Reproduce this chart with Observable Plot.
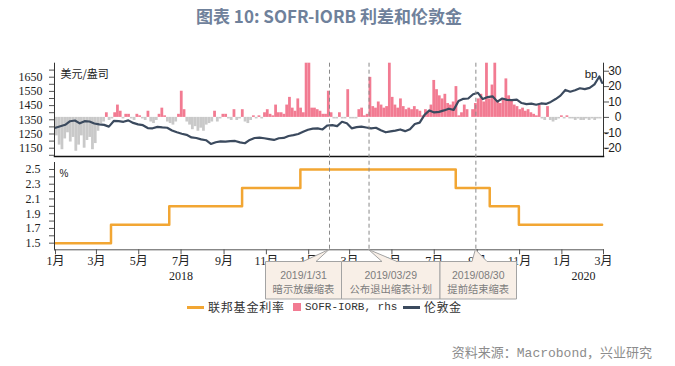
<!DOCTYPE html>
<html><head><meta charset="utf-8">
<script src="https://cdn.jsdelivr.net/npm/d3@7"></script>
<script src="https://cdn.jsdelivr.net/npm/@observablehq/plot@0.6"></script>
<style>
body{margin:0;background:#fff;}
#wrap{position:relative;width:675px;height:366px;overflow:hidden;}
#wrap svg{position:absolute;left:0;top:0;}
.abs{position:absolute;white-space:nowrap;}
#title{top:3px;left:0;width:658px;text-align:center;font:bold 17px "Noto Sans CJK SC",sans-serif;color:#6f819b;line-height:26px;}
.lg{font:12px "Noto Sans CJK SC",sans-serif;color:#333;line-height:14px;top:300px;}
#source{top:345px;right:23px;font:13px "Liberation Mono","Noto Sans CJK SC",monospace;color:#8c8c8c;line-height:18px;}
</style></head><body>
<div id="wrap"></div>
<script>
// ---- data ----
const goldStart = "2018-01-01";           // weekly observations (Mondays), last one 2020-02-28
const goldPrice = [
1294,1305,1315,1340,1345,1325,1340,1338,1324,1318,1314,1302,1342,
1340,1336,1346,1328,1318,1312,1292,1290,1300,1296,1294,1275,1262,
1252,1244,1226,1222,1212,1206,1180,1192,1198,1196,1200,1201,1191,
1185,1208,1222,1225,1220,1214,1208,1220,1222,1236,1242,1250,1266,
1280,1288,1290,1282,1310,1312,1305,1336,1326,1290,1298,1302,1296,
1290,1294,1276,1262,1268,1274,1282,1270,1284,1320,1330,1385,1416,
1402,1406,1416,1428,1420,1482,1498,1500,1530,1540,1496,1510,1515,
1478,1500,1490,1488,1492,1468,1460,1464,1456,1465,1462,1476,1496,
1520,1560,1548,1558,1572,1566,1575,1600,1655,1610];
const goldLastDate = "2020-02-28";

const sofrStart = "2018-01-01";           // 4-day blocks
const sofrIorb = [
-12,-18,-21,-14,-10,-16,-13,-22,-18,-12,
-20,-15,-13,-21,-17,-9,-4,-3,3,-2,
-1,3,8,4,-1,2,2,-1,-2,2,
1,-1,-2,4,-3,-4,-2,2,6,1,
-3,-4,-5,-3,2,17,5,-3,-5,-8,
-6,-9,-7,-9,-5,-4,-3,4,-3,-1,
2,2,-1,-2,5,-2,-1,5,-3,-4,
-2,1,-1,1,-1,3,5,2,1,8,
3,3,2,8,13,6,4,12,6,3,
40,40,6,6,5,4,2,2,17,3,
-1,-1,3,-1,-1,18,-1,-1,-1,5,
6,1,2,26,7,6,10,8,6,7,
40,13,8,6,12,7,5,6,5,7,
5,4,1,5,4,8,24,18,14,12,
15,9,8,10,20,1,3,8,5,0,
5,9,12,15,10,45,12,21,40,11,
9,12,25,14,11,8,7,5,6,4,
5,3,2,1,8,-1,-2,7,-2,-3,
-2,-1,1,-1,1,-1,-1,-2,-1,-2,
-2,-1,-2,-1,-2,-1,-1];

const fedDates = ["2018-01-01","2018-03-22","2018-06-14","2018-09-27","2018-12-20","2019-08-01","2019-09-19","2019-10-31","2020-02-28"];
const fedRate  = [1.5,1.75,2.0,2.25,2.5,2.25,2.0,1.75,1.75];

const eventDates  = ["2019-01-31","2019-03-29","2019-08-30"];
const eventLabels = ["2019/1/31","2019/03/29","2019/08/30"];
const eventNotes  = ["暗示放缓缩表","公布退出缩表计划","提前结束缩表"];

const monthTicks = ["2018-01-01","2018-03-01","2018-05-01","2018-07-01","2018-09-01","2018-11-01",
  "2019-01-01","2019-03-01","2019-05-01","2019-07-01","2019-09-01","2019-11-01","2020-01-01","2020-03-01"];
const yearLabels = ["2018","2020"];
const yearDates  = ["2018-07-01","2020-02-01"];

const goldTicks  = [1100,1150,1200,1250,1300,1350,1400,1450,1500,1550,1600,1650,1700];
const goldLabels = [1150,1250,1350,1450,1550,1650];
const bpTicks    = [-20,-10,0,10,20,30];
const fedTicks   = [1.5,1.6,1.7,1.8,1.9,2.0,2.1,2.2,2.3,2.4,2.5];
const fedLabels  = [1.5,1.7,1.9,2.1,2.3,2.5];

const legendNames = ["联邦基金利率","SOFR-IORB, rhs","伦敦金"];
const titleText = "图表 10: SOFR-IORB 利差和伦敦金";
const sourceText = "资料来源：Macrobond，兴业研究";

// ---- build ----
const PINK="#f27b92", GRAY="#c9c9c9", DARK="#3b4a5e", ORANGE="#f2a633";
const W=675, H=366, DAY=864e5;
const xDomain=[new Date("2018-01-01"), new Date("2020-03-01")];
const xOpt = {type:"utc", domain:xDomain, range:[55,603], label:null};
const base = {width:W, height:H, marginLeft:54, marginRight:72};
const sty = {background:"transparent", color:"#555", overflow:"visible"};

const s0 = +new Date(sofrStart);
const sofrData = sofrIorb.map((v,k)=>({d1:new Date(s0+4*k*DAY), d2:new Date(s0+4*(k+1)*DAY), v}));
const g0 = +new Date(goldStart);
const goldData = goldPrice.map((v,i)=>({d: i<goldPrice.length-1 ? new Date(g0+7*i*DAY) : new Date(goldLastDate), v}));
const fedData = fedDates.map((d,i)=>({d:new Date(d), v:fedRate[i]}));

const wrap = document.getElementById("wrap");

const topM = {marginTop:62.7, marginBottom:H-156};
const botM = {marginTop:162, marginBottom:H-249.3};

// top panel: bars (right axis)
const p1 = Plot.plot({...base, ...topM, style:sty,
  x:{...xOpt, axis:null},
  y:{domain:[-25.4,35.2], clamp:true, label:null},
  marks:[
    Plot.rect(sofrData.filter(d=>d.v<0),{x1:"d1",x2:"d2",y1:0,y2:"v",fill:GRAY}),
    Plot.rect(sofrData.filter(d=>d.v>0),{x1:"d1",x2:"d2",y1:0,y2:"v",fill:PINK}),
    Plot.axisY({anchor:"right", ticks:bpTicks, tickFormat:d=>String(d), tickSize:5, tickPadding:13,
      textAnchor:"end", fontFamily:"Liberation Sans", fontSize:12, fill:"#222"}),
    Plot.frame({anchor:"right", stroke:"#333"}),
    Plot.text(["bp"],{frameAnchor:"top-right", dx:-6, dy:7, textAnchor:"end", fontFamily:"Liberation Sans", fontSize:11.5, fill:"#222"})
  ]});

// top panel: gold (left axis)
const p2 = Plot.plot({...base, ...topM, style:sty,
  x:{...xOpt, axis:null},
  y:{domain:[1091.5,1748.6], label:null},
  marks:[
    Plot.line(goldData,{x:"d",y:"v",stroke:DARK,strokeWidth:2.2,strokeLinejoin:"round"}),
    Plot.axisY({anchor:"left", ticks:goldTicks, tickFormat:d=>goldLabels.includes(d)?String(d):"",
      tickSize:5, tickPadding:7, fontFamily:"Liberation Serif", fontSize:12, fill:"#222"}),
    Plot.frame({anchor:"left", stroke:"#333"}),
    Plot.frame({anchor:"bottom", stroke:"#111", strokeWidth:1.5}),
    Plot.text(["美元/盎司"],{frameAnchor:"top-left", dx:6, dy:7, textAnchor:"start", fontFamily:"Noto Sans CJK SC", fontSize:11, fill:"#222"})
  ]});

// bottom panel: fed funds
const p3 = Plot.plot({...base, ...botM, style:sty,
  x:xOpt,
  y:{domain:[1.41,2.595], label:null},
  marks:[
    Plot.line(fedData,{x:"d",y:"v",curve:"step-after",stroke:ORANGE,strokeWidth:2.5}),
    Plot.axisY({anchor:"left", ticks:fedTicks, tickFormat:d=>fedLabels.includes(d)?d.toFixed(1):"",
      tickSize:5, tickPadding:9, fontFamily:"Liberation Serif", fontSize:12, fill:"#222"}),
    Plot.frame({anchor:"left", stroke:"#333"}),
    Plot.frame({anchor:"bottom", stroke:"#555"}),
    Plot.axisX({anchor:"bottom", ticks:monthTicks.map(d=>new Date(d)), tickFormat:d=>(d.getUTCMonth()+1)+"月",
      tickSize:5, tickPadding:2, fontFamily:"Liberation Serif, Noto Sans CJK SC", fontSize:12, fill:"#222"}),
    Plot.text(yearLabels,{x:(d,i)=>new Date(yearDates[i]), text:d=>d, frameAnchor:"bottom", dy:30,
      fontFamily:"Liberation Serif", fontSize:12, fill:"#222"}),
    Plot.text(["%"],{frameAnchor:"top-left", dx:5, dy:7, textAnchor:"start", fontFamily:"Liberation Sans", fontSize:10, fill:"#222"})
  ]});

// overlay: event lines + callouts
const p4 = Plot.plot({...base, marginTop:62.7, marginBottom:H-249.3, style:sty,
  x:{...xOpt, axis:null},
  marks:[
    Plot.ruleX(eventDates.map(d=>new Date(d)),{stroke:"#8a8a8a", strokeDasharray:"4,3", strokeWidth:1})
  ]});

[p1,p2,p3,p4].forEach(p=>wrap.appendChild(p));

const sx = p4.scale("x");
const boxes = [[265.5,341.5,303,316],[341.5,440,382,397],[440,516.5,472,487]];
const bTop=261.5, bBot=299, tipY=249.5;
const g = d3.select(p4).append("g");
eventDates.forEach((d,i)=>{
  const [x0,x1,b0,b1]=boxes[i];
  const tx = sx.apply(new Date(d));
  g.append("path")
    .attr("d",`M${x0},${bTop}L${b0},${bTop}L${tx},${tipY}L${b1},${bTop}L${x1},${bTop}L${x1},${bBot}L${x0},${bBot}Z`)
    .attr("fill","#f8efe7").attr("stroke","#a3a3a3").attr("stroke-width",1);
  const cx=(x0+x1)/2;
  g.append("text").attr("x",cx).attr("y",275).attr("text-anchor","middle").attr("dominant-baseline","central")
    .attr("font-family","Liberation Sans").attr("font-size",10.5).attr("fill","#7d7d7d").text(eventLabels[i]);
  g.append("text").attr("x",cx).attr("y",288).attr("text-anchor","middle").attr("dominant-baseline","central")
    .attr("font-family","Noto Sans CJK SC").attr("font-size",10.3).attr("fill","#7d7d7d").text(eventNotes[i]);
});

// title, legend, source
const add=(html,cls,css)=>{const e=document.createElement("div");e.className="abs "+cls;e.style.cssText=css||"";e.innerHTML=html;wrap.appendChild(e);return e;};
add(titleText,"","").id="title";
add("","", `left:187px;top:306px;width:17px;height:2.5px;background:${ORANGE};`);
add(legendNames[0],"lg","left:208px;letter-spacing:0.8px;");
add("","", `left:293px;top:303px;width:8px;height:8px;background:${PINK};`);
add(legendNames[1],"lg",'left:305px;font-family:"Liberation Mono",monospace;font-size:11px;');
add("","", `left:403px;top:306px;width:17px;height:2.5px;background:${DARK};`);
add(legendNames[2],"lg","left:424px;letter-spacing:0.5px;");
add(sourceText,"","").id="source";
</script>
</body></html>
